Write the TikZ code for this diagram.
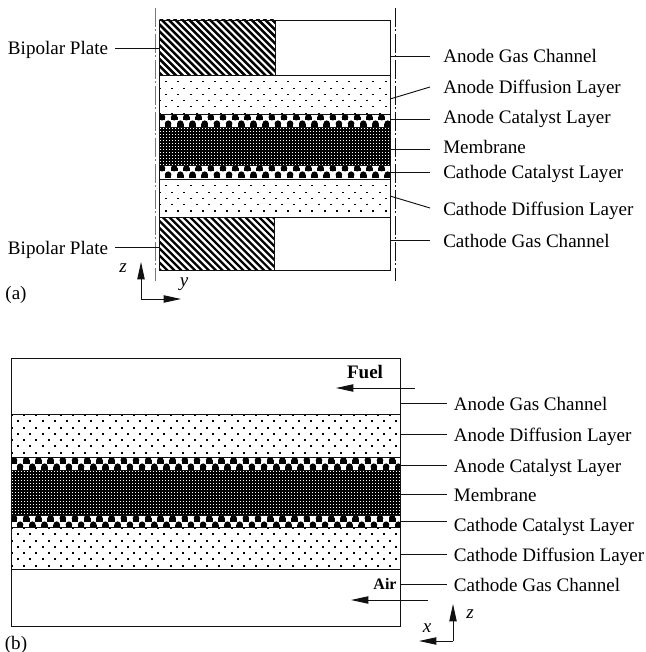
\documentclass[tikz,border=0pt]{standalone}
\usepackage{fontspec}
\setmainfont{Liberation Serif}
\usetikzlibrary{arrows.meta, positioning}
\definecolor{Ink}{HTML}{111111}
\definecolor{RuleGray}{HTML}{777777}
\tikzset{
  layerbox/.style={rectangle, draw=Ink, line width=0.7pt, inner sep=0pt,
    outer sep=0pt, minimum width=#1, fill=white},
  diffuse/.style={path picture={
    \foreach \r in {0,...,9}
      \foreach \c in {0,...,33}
        \fill[black] (path picture bounding box.north west)
          ++({round(\c*12.2+6.1*mod(\r,2))},{round(\r*6.25)}) rectangle ++(1.5,1.5);
  }},
  dense/.style={path picture={
    \fill[black] (path picture bounding box.south west) rectangle (path picture bounding box.north east);
    \foreach \r in {0,...,15}
      \foreach \c in {0,...,130}
        \fill[white] (path picture bounding box.north west)
          ++({\c*3+1},{\r*3+1}) rectangle ++(1.25,1.25);
  }},
  catalyst/.style={path picture={
    \foreach \r in {0,1}
      \foreach \c in {0,...,33} {
        \fill[black] (path picture bounding box.north west)
          ++({\c*12.2+6.1*\r+3},{\r*6.5+3.2}) circle (3.3);
        \fill[black] (path picture bounding box.north west)
          ++({\c*12.2+6.1*\r-0.3},{\r*6.5+3.2}) rectangle ++(6.6,3.3);
      }
  }},
  hatchbold/.style={path picture={
    \foreach \c in {-18,...,18}
      \draw[black, line width=1.9pt] ({\c*6.9-40},-40) -- ++(80,80);
  }},
  hatchthin/.style={path picture={
    \foreach \c in {-18,...,18}
      \draw[black, line width=1.7pt] ({\c*6.9-40},-40) -- ++(80,80);
  }},
  partlbl/.style={anchor=west, inner xsep=9.75pt, inner ysep=0pt, text height=11.5pt,
    text depth=1pt, font=\fontsize{14.3}{16}\selectfont},
  partlblb/.style={partlbl, inner xsep=5pt},
  platelbl/.style={anchor=east, inner xsep=5pt, inner ysep=0pt, text height=11.5pt,
    text depth=1pt, font=\fontsize{14.3}{16}\selectfont},
  tag/.style={inner sep=0pt, font=\fontsize{14.3}{16}\selectfont},
  axislbl/.style={inner sep=0pt, font=\fontsize{14.3}{16}\selectfont\itshape},
  flowlbl/.style={inner sep=0pt, font=\fontsize{14.3}{16}\selectfont\bfseries},
  leader/.style={line width=0.7pt, color=Ink},
  arr/.style={-{Triangle[length=13pt, width=5.5pt]}, line width=0.7pt, color=Ink},
  symline/.style={line width=0.7pt, dash pattern=on 14pt off 2pt on 1.5pt off 2pt},
}
\begin{document}
\begin{tikzpicture}[x=0.75pt, y=-0.75pt, node distance=0pt]
  \useasboundingbox (0,0) rectangle (645,652);

  % (a) through-plane section
  \node (plateA) [layerbox=87pt, minimum height=41.25pt, anchor=north west, hatchbold] at (159,20) {};
  \node (gasA)   [layerbox=86.25pt, minimum height=41.25pt, right=of plateA] {};
  \node (diffA)  [layerbox=173.25pt, minimum height=29.25pt, anchor=north west, diffuse] at (plateA.south west) {};
  \node (catA)   [layerbox=173.25pt, minimum height=9.75pt, below=of diffA, catalyst] {};
  \node (memA)   [layerbox=173.25pt, minimum height=28.5pt, below=of catA, dense] {};
  \node (catC)   [layerbox=173.25pt, minimum height=10.5pt, below=of memA, catalyst] {};
  \node (diffC)  [layerbox=173.25pt, minimum height=28.5pt, below=of catC, diffuse] {};
  \node (plateC) [layerbox=86.25pt, minimum height=39.75pt, anchor=north west, hatchthin] at (diffC.south west) {};
  \node (gasC)   [layerbox=87pt, minimum height=39.75pt, right=of plateC] {};

  \coordinate (symLT) at (155,8);
  \coordinate (symLB) at (155,281);
  \coordinate (symRT) at (395,8);
  \coordinate (symRB) at (395,281);
  \draw[symline, color=RuleGray] (symLT) -- (symLB);
  \draw[symline, color=Ink] (symRT) -- (symRB);

  \node (lblPlateT) [platelbl] at (115,48)  {Bipolar Plate};
  \node (lblPlateB) [platelbl] at (115,247) {Bipolar Plate};
  \node (lblGasA)   [partlbl]  at (430,56)  {Anode Gas Channel};
  \node (lblDiffA)  [partlbl]  at (430,87)  {Anode Diffusion Layer};
  \node (lblCatA)   [partlbl]  at (430,117) {Anode Catalyst Layer};
  \node (lblMem)    [partlbl]  at (430,147) {Membrane};
  \node (lblCatC)   [partlbl]  at (430,172) {Cathode Catalyst Layer};
  \node (lblDiffC)  [partlbl]  at (430,208) {Cathode Diffusion Layer};
  \node (lblGasC)   [partlbl]  at (430,240) {Cathode Gas Channel};

  \draw[leader] (lblPlateT.east) -- (lblPlateT.east -| plateA.west);
  \draw[leader] (lblPlateB.east) -- (lblPlateB.east -| plateC.west);
  \draw[leader] (lblGasA.west)   -- (lblGasA.west -| gasA.east);
  \draw[leader] (lblDiffA.west)  -- ([yshift=-3.4pt]diffA.east);
  \draw[leader] ([yshift=-1.5pt]lblCatA.west) -- ([yshift=-1.5pt]lblCatA.west -| catA.east);
  \draw[leader] ([yshift=-1.5pt]lblMem.west)  -- ([yshift=-1.5pt]lblMem.west -| memA.east);
  \draw[leader] (lblCatC.west)   -- (lblCatC.west -| catC.east);
  \draw[leader] (lblDiffC.west)  -- ([yshift=1.5pt]diffC.east);
  \draw[leader] (lblGasC.west)   -- (lblGasC.west -| gasC.east);

  \coordinate (orgA) at (141,299);
  \coordinate (axZA) at (141,262);
  \coordinate (axYA) at (181,299);
  \draw[arr] (orgA) -- (axZA);
  \draw[arr] (orgA) -- (axYA);
  \node (lblZA) [axislbl] at (123,268) {z};
  \node (lblYA) [axislbl] at (184,284) {y};
  \node (tagA)  [tag]     at (16,295)  {(a)};

  % (b) in-plane section
  \node (gasAb)  [layerbox=291.75pt, minimum height=42pt, anchor=north west] at (11,358) {};
  \node (diffAb) [layerbox=291.75pt, minimum height=32.25pt, below=of gasAb, diffuse] {};
  \node (catAb)  [layerbox=291.75pt, minimum height=9.75pt, below=of diffAb, catalyst] {};
  \node (memB)   [layerbox=291.75pt, minimum height=33.75pt, below=of catAb, dense] {};
  \node (catCb)  [layerbox=291.75pt, minimum height=9pt, below=of memB, catalyst] {};
  \node (diffCb) [layerbox=291.75pt, minimum height=31.5pt, below=of catCb, diffuse] {};
  \node (gasCb)  [layerbox=291.75pt, minimum height=42.75pt, below=of diffCb] {};

  \node (lblFuel) [flowlbl] at (365,372) {Fuel};
  \node (lblAir)  [flowlbl, font=\fontsize{12}{14}\selectfont\bfseries] at (385,584) {Air};
  \coordinate (fuelIn)  at (415,388);
  \coordinate (fuelOut) at (336,388);
  \coordinate (airIn)   at (428,600);
  \coordinate (airOut)  at (351,600);
  \draw[arr] (fuelIn) -- (fuelOut);
  \draw[arr] (airIn) -- (airOut);

  \node (lblGasAb)  [partlblb] at (447,403) {Anode Gas Channel};
  \node (lblDiffAb) [partlblb] at (447,434) {Anode Diffusion Layer};
  \node (lblCatAb)  [partlblb] at (447,465) {Anode Catalyst Layer};
  \node (lblMemB)   [partlblb] at (447,494) {Membrane};
  \node (lblCatCb)  [partlblb] at (447,524) {Cathode Catalyst Layer};
  \node (lblDiffCb) [partlblb] at (447,554) {Cathode Diffusion Layer};
  \node (lblGasCb)  [partlblb] at (447,584) {Cathode Gas Channel};

  \draw[leader] (lblGasAb.west)  -- (lblGasAb.west -| gasAb.east);
  \draw[leader] (lblDiffAb.west) -- (lblDiffAb.west -| diffAb.east);
  \draw[leader] (lblCatAb.west)  -- (lblCatAb.west -| catAb.east);
  \draw[leader] (lblMemB.west)   -- (lblMemB.west -| memB.east);
  \draw[leader] ([yshift=2.25pt]lblCatCb.west) -- ([yshift=2.25pt]lblCatCb.west -| catCb.east);
  \draw[leader] (lblDiffCb.west) -- (lblDiffCb.west -| diffCb.east);
  \draw[leader] (lblGasCb.west)  -- (lblGasCb.west -| gasCb.east);

  \coordinate (orgB) at (453,641);
  \coordinate (axZB) at (453,604);
  \coordinate (axXB) at (419,641);
  \draw[arr] (orgB) -- (axZB);
  \draw[arr] (orgB) -- (axXB);
  \node (lblZB) [axislbl] at (470,614) {z};
  \node (lblXB) [axislbl] at (427,628) {x};
  \node (tagB)  [tag]     at (16,645)  {(b)};
\end{tikzpicture}
\end{document}
